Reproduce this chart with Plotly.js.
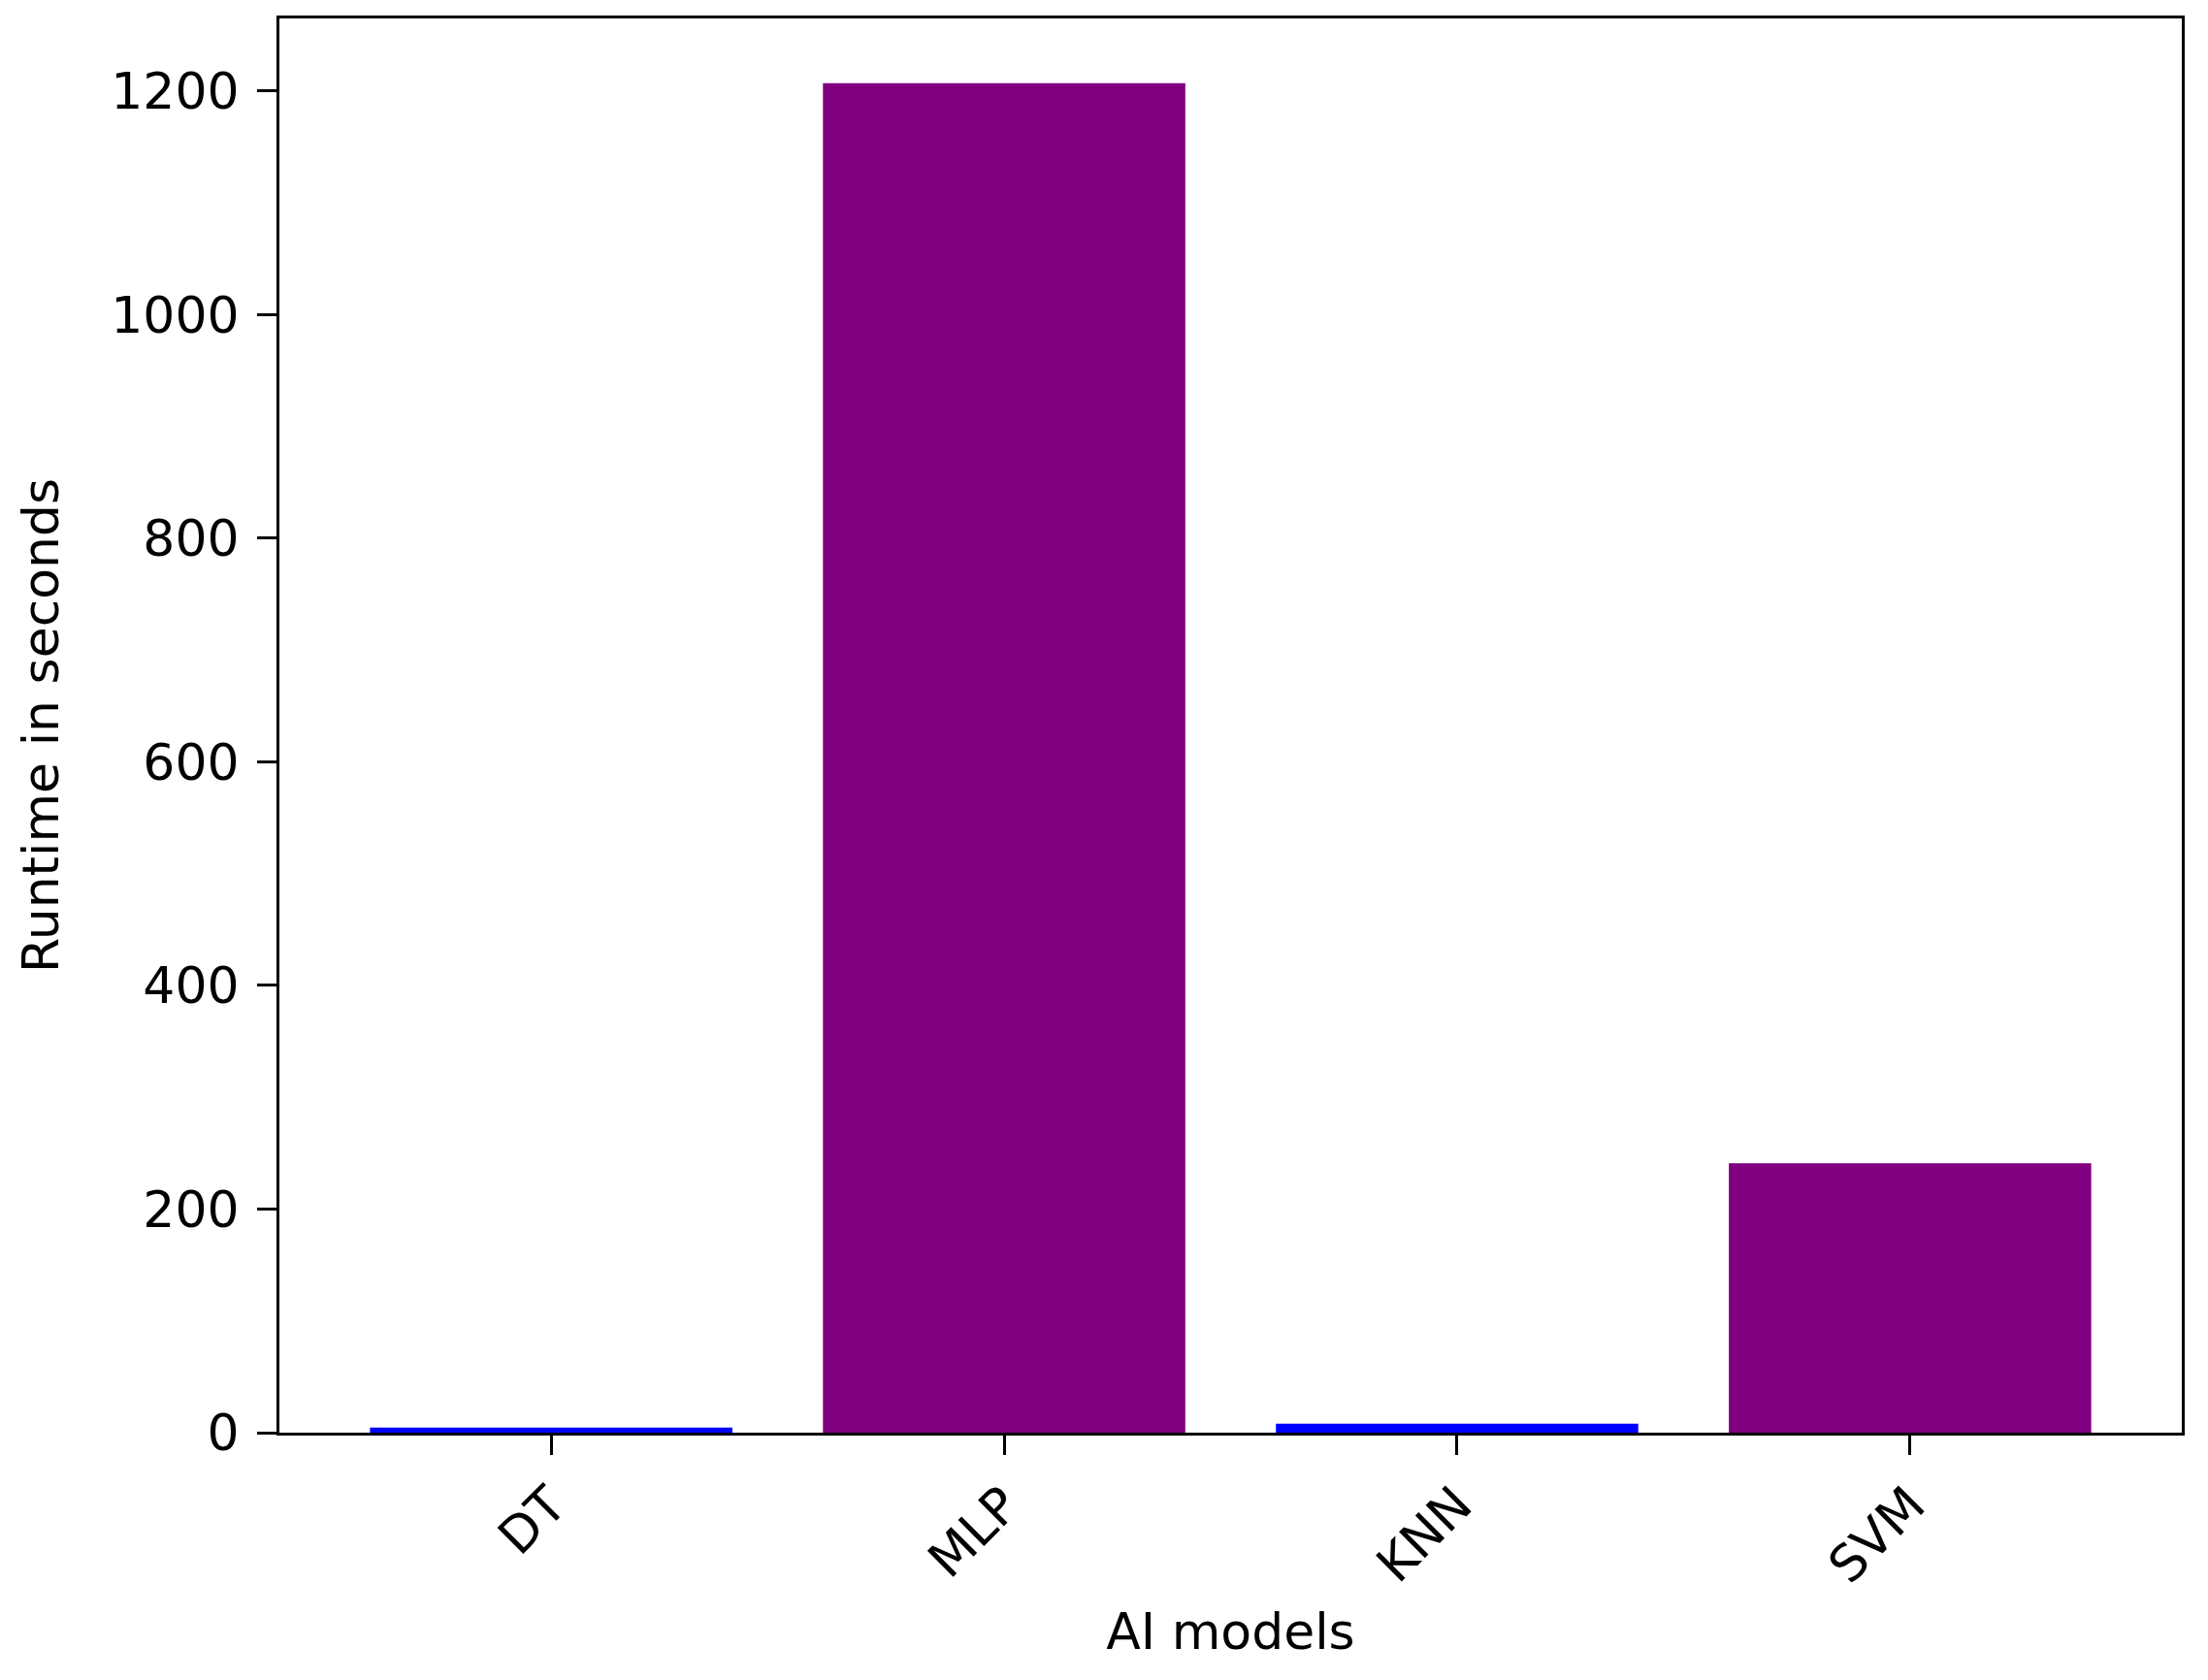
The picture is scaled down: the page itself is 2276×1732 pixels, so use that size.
<!DOCTYPE html>
<html>
<head>
<meta charset="utf-8">
<script src="https://cdn.plot.ly/plotly-3.0.1.min.js"></script>
<style>
    body { margin: 0; background: #fff; }
    #chart { width: 2276px; height: 1732px; }
</style>
</head>
<body>
<div id="chart"></div>
<script>
// Runtime of each AI model, in seconds
const models = ['DT', 'MLP', 'KNN', 'SVM'];
const runtimes = [4.5, 1207, 8, 241];
const barColors = ['blue', 'purple', 'blue', 'purple'];

const axisFont = { family: 'DejaVu Sans, sans-serif', size: 52, color: '#000' };

var trace = {
    x: models,
    y: runtimes,
    type: 'bar',
    width: 0.8,
    marker: { color: barColors, line: { width: 0 } },
    hoverinfo: 'none'
};

var layout = {
    width: 2276,
    height: 1732,
    margin: { l: 288, r: 27, t: 19, b: 255 },
    paper_bgcolor: '#fff',
    plot_bgcolor: '#fff',
    showlegend: false,
    font: axisFont,
    xaxis: {
        title: { text: 'AI models', font: axisFont, standoff: 22 },
        range: [-0.6, 3.6],
        tickangle: -45,
        ticks: 'outside',
        ticklen: 20,
        tickwidth: 3,
        tickcolor: '#000',
        tickfont: axisFont,
        showline: true,
        linewidth: 3,
        linecolor: '#000',
        mirror: true,
        showgrid: false,
        zeroline: false
    },
    yaxis: {
        title: { text: 'Runtime in seconds', font: axisFont, standoff: 38 },
        range: [0, 1265],
        dtick: 200,
        tick0: 0,
        ticks: 'outside',
        ticklen: 20,
        tickwidth: 3,
        tickcolor: '#000',
        tickfont: axisFont,
        ticklabelstandoff: 8,
        showline: true,
        linewidth: 3,
        linecolor: '#000',
        mirror: true,
        showgrid: false,
        zeroline: false
    }
};

Plotly.newPlot('chart', [trace], layout, { displayModeBar: false, staticPlot: true });
</script>
</body>
</html>
